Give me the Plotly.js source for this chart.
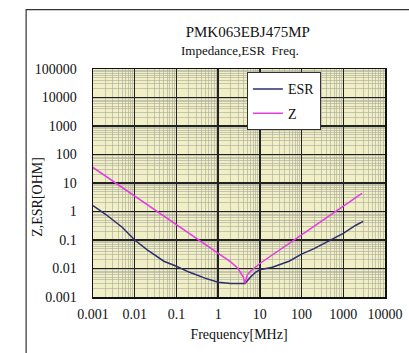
<!DOCTYPE html>
<html>
<head>
<meta charset="utf-8">
<script src="https://cdn.plot.ly/plotly-3.0.1.min.js"></script>
<style>html,body{margin:0;padding:0;background:#fff;}#chart{width:409px;height:353px;}</style>
</head>
<body>
<div id="chart"></div>
<script>
// Frequency [MHz] and values [OHM]
const esrFreq = [0.001, 0.002, 0.005, 0.01, 0.02, 0.05, 0.1, 0.2, 0.5, 1, 2, 4.4, 6, 8, 10, 20, 50, 100, 200, 500, 1000, 2000, 3000];
const esrVals = [1.6, 0.8, 0.28, 0.1, 0.045, 0.018, 0.012, 0.0075, 0.0045, 0.0033, 0.003, 0.003, 0.005, 0.0075, 0.009, 0.011, 0.018, 0.032, 0.05, 0.1, 0.17, 0.33, 0.45];
const zFreq = [0.001, 0.01, 0.1, 1, 2, 3, 4, 4.4, 5, 6, 10, 100, 1000, 2800];
const zVals = [35, 3.4, 0.34, 0.034, 0.017, 0.01, 0.005, 0.003, 0.006, 0.008, 0.015, 0.15, 1.5, 4.3];
const xTickVals = [0.001, 0.01, 0.1, 1, 10, 100, 1000, 10000];
const xTickText = ['0.001', '0.01', '0.1', '1', '10', '100', '1000', '10000'];
const yTickVals = [0.001, 0.01, 0.1, 1, 10, 100, 1000, 10000, 100000];
const yTickText = ['0.001', '0.01', '0.1', '1', '10', '100', '1000', '10000', '100000'];

const serif = 'Liberation Serif, serif';

const traces = [
  {x: esrFreq, y: esrVals, name: 'ESR', mode: 'lines', legendgroup: 'a',
   line: {color: '#2e2e6e', width: 1.5}},
  {x: zFreq, y: zVals, name: 'Z', mode: 'lines', legendgroup: 'b',
   line: {color: '#e23ee2', width: 1.5}}
];

const axisCommon = {
  type: 'log', showline: true, linecolor: '#111', linewidth: 1.5, mirror: true,
  showgrid: true, gridcolor: '#222', gridwidth: 1.5, zeroline: false,
  ticks: '', tickfont: {family: serif, size: 14, color: '#111'},
  minor: {dtick: 'D1', showgrid: true, gridcolor: '#a8a89a', gridwidth: 0.6, ticks: ''}
};

const layout = {
  width: 409, height: 353,
  margin: {l: 93, r: 24, t: 69, b: 56},
  paper_bgcolor: '#ffffff', plot_bgcolor: '#f1efc6',
  font: {family: serif, color: '#111'},
  title: {
    text: 'PMK063EBJ475MP',
    font: {family: serif, size: 15, color: '#111'},
    x: 0.53, xref: 'paper', xanchor: 'center',
    y: 1 - 32 / 353, yref: 'container', yanchor: 'middle'
  },
  xaxis: Object.assign({}, axisCommon, {
    range: [-3, 4], tickvals: xTickVals, ticktext: xTickText, ticklabelstandoff: 4,
    title: {text: 'Frequency[MHz]', font: {family: serif, size: 14, color: '#111'}, standoff: 8}
  }),
  yaxis: Object.assign({}, axisCommon, {
    range: [-3, 5], tickvals: yTickVals, ticktext: yTickText, ticklabelstandoff: 12
  }),
  annotations: [
    {text: 'Impedance,ESR&nbsp;&nbsp;Freq.', xref: 'paper', yref: 'paper',
     x: 0.505, y: 1 + 19 / 228, xanchor: 'center', yanchor: 'middle', showarrow: false,
     font: {family: serif, size: 13, color: '#111'}},
    {text: 'Z,ESR[OHM]', xref: 'paper', yref: 'paper', textangle: -90,
     x: -0.188, y: 0.44, xanchor: 'center', yanchor: 'middle', showarrow: false,
     font: {family: serif, size: 14, color: '#111'}}
  ],
  showlegend: true,
  legend: {
    x: 0.527, y: 0.985, xanchor: 'left', yanchor: 'top',
    bgcolor: '#ffffff', bordercolor: '#333', borderwidth: 1,
    font: {family: serif, size: 14, color: '#111'},
    traceorder: 'grouped', tracegroupgap: 3
  },
  shapes: [{
    type: 'rect', xref: 'paper', yref: 'paper',
    x0: -0.229, x1: 1.6, y0: -0.8, y1: 1.26,
    line: {color: '#333', width: 1.2}, fillcolor: 'rgba(0,0,0,0)', layer: 'below'
  }]
};

Plotly.newPlot('chart', traces, layout, {displayModeBar: false, staticPlot: true});
</script>
</body>
</html>
